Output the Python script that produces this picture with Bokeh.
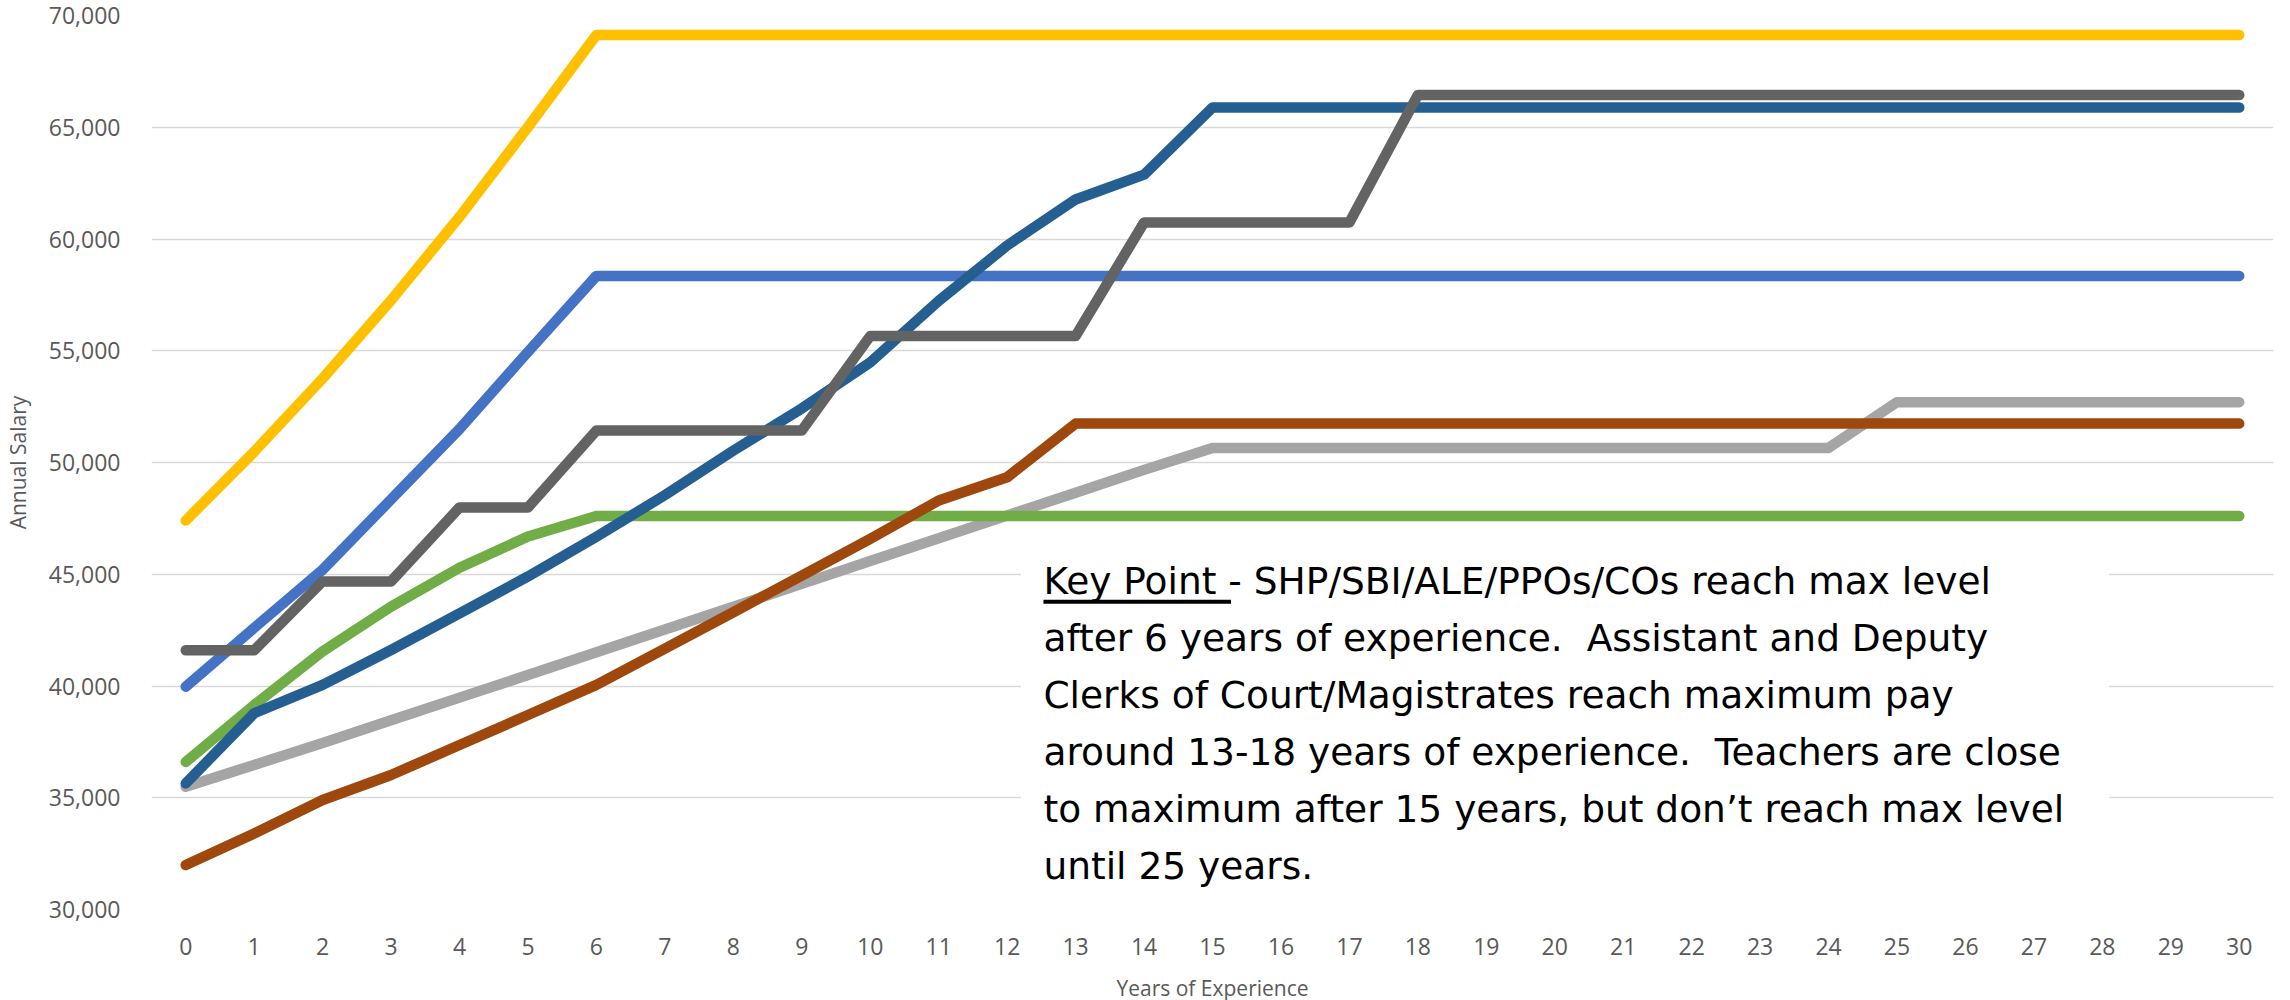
from bokeh.plotting import figure
from bokeh.models import Range1d, FixedTicker, NumeralTickFormatter, BoxAnnotation, Label, ColumnDataSource
from bokeh.embed import file_html
from bokeh.resources import INLINE

# ---------------- data ----------------
years = [0, 1, 2, 3, 4, 5, 6, 7, 8, 9, 10, 11, 12, 13, 14, 15,
         16, 17, 18, 19, 20, 21, 22, 23, 24, 25, 26, 27, 28, 29, 30]
y_ticks = [30000, 35000, 40000, 45000, 50000, 55000, 60000, 65000, 70000]
x_axis_title = "Years of Experience"
y_axis_title = "Annual Salary"

series_yellow = [47400, 50480, 53760, 57260, 60990, 65010, 69130, 69130, 69130, 69130, 69130,
                 69130, 69130, 69130, 69130, 69130, 69130, 69130, 69130, 69130, 69130,
                 69130, 69130, 69130, 69130, 69130, 69130, 69130, 69130, 69130, 69130]
series_blue = [39970, 42600, 45200, 48350, 51500, 54950, 58350, 58350, 58350, 58350, 58350,
               58350, 58350, 58350, 58350, 58350, 58350, 58350, 58350, 58350, 58350,
               58350, 58350, 58350, 58350, 58350, 58350, 58350, 58350, 58350, 58350]
series_dark_grey = [41600, 41600, 44680, 44680, 47990, 47990, 51430, 51430, 51430, 51430, 55660,
                    55660, 55660, 55660, 60740, 60740, 60740, 60740, 66440, 66440, 66440,
                    66440, 66440, 66440, 66440, 66440, 66440, 66440, 66440, 66440, 66440]
series_dark_blue = [35640, 38780, 40050, 41610, 43250, 44900, 46680, 48540, 50530, 52420, 54480,
                    57230, 59710, 61770, 62880, 65880, 65880, 65880, 65880, 65880, 65880,
                    65880, 65880, 65880, 65880, 65880, 65880, 65880, 65880, 65880, 65880]
series_green = [36600, 39150, 41550, 43550, 45290, 46690, 47610, 47610, 47610, 47610, 47610,
                47610, 47610, 47610, 47610, 47610, 47610, 47610, 47610, 47610, 47610,
                47610, 47610, 47610, 47610, 47610, 47610, 47610, 47610, 47610, 47610]
series_light_grey = [35490, 36470, 37450, 38470, 39480, 40490, 41510, 42530, 43550, 44570, 45590,
                     46610, 47630, 48650, 49670, 50650, 50650, 50650, 50650, 50650, 50650,
                     50650, 50650, 50650, 50650, 52700, 52700, 52700, 52700, 52700, 52700]
series_brown = [31990, 33400, 34900, 36020, 37360, 38700, 40050, 41670, 43300, 44940, 46580,
                48300, 49340, 51740, 51740, 51740, 51740, 51740, 51740, 51740, 51740,
                51740, 51740, 51740, 51740, 51740, 51740, 51740, 51740, 51740, 51740]

note_lines = [
    "Key Point - SHP/SBI/ALE/PPOs/COs reach max level",
    "after 6 years of experience.\u00a0 Assistant and Deputy",
    "Clerks of Court/Magistrates reach maximum pay",
    "around 13-18 years of experience.\u00a0 Teachers are close",
    "to maximum after 15 years, but don\u2019t reach max level",
    "until 25 years.",
]

# ---------------- figure ----------------
TICK_FONT = "Open Sans"
NOTE_FONT = "DejaVu Sans"
p = figure(frame_width=2122, frame_height=894,
           x_range=Range1d(-0.5, 30.5), y_range=Range1d(30000, 70000),
           output_backend="svg", toolbar_location=None,
           min_border_left=149, min_border_right=3, min_border_top=15, min_border_bottom=81)
p.outline_line_color = None
p.background_fill_color = "white"
p.border_fill_color = "white"

p.xgrid.grid_line_color = None
p.ygrid.grid_line_color = "#D9D9D9"
p.ygrid.grid_line_width = 1.5
p.ygrid.ticker = FixedTicker(ticks=y_ticks)

p.xaxis.ticker = FixedTicker(ticks=years)
p.yaxis.ticker = FixedTicker(ticks=y_ticks)
p.yaxis.formatter = NumeralTickFormatter(format="0,0")

for ax in (p.xaxis[0], p.yaxis[0]):
    ax.axis_line_color = None
    ax.major_tick_line_color = None
    ax.minor_tick_line_color = None
    ax.major_tick_out = 0
    ax.major_tick_in = 0
    ax.major_label_text_font = TICK_FONT
    ax.major_label_text_font_size = "23px"
    ax.major_label_text_color = "#595959"
    ax.axis_label_text_font = TICK_FONT
    ax.axis_label_text_font_size = "21px"
    ax.axis_label_text_font_style = "normal"
    ax.axis_label_text_color = "#595959"

p.xaxis.axis_label = x_axis_title
p.yaxis.axis_label = y_axis_title
p.yaxis.major_label_standoff = 31
p.yaxis.axis_label_standoff = 14
p.xaxis.major_label_standoff = 28
p.xaxis.axis_label_standoff = 16

src = ColumnDataSource(dict(year=years, yellow=series_yellow, blue=series_blue,
                            dgrey=series_dark_grey, dblue=series_dark_blue,
                            green=series_green, lgrey=series_light_grey, brown=series_brown))

LW = 10.5
for col, color in [("lgrey", "#A5A5A5"), ("green", "#70AD47"), ("yellow", "#FFC000"),
                   ("blue", "#4472C4"), ("brown", "#9E480E"), ("dblue", "#255E91"),
                   ("dgrey", "#636363")]:
    p.line("year", col, source=src, line_color=color, line_width=LW,
           line_cap="round", line_join="round")

# ---------------- text box ----------------
box = BoxAnnotation(left=12.2, right=28.1, bottom=29000, top=47300,
                    fill_color="white", fill_alpha=1.0, line_color=None)
p.add_layout(box)

NOTE_X = 12.53
first_baseline = 44680
line_step = 2550
for i, t in enumerate(note_lines):
    p.add_layout(Label(x=NOTE_X, y=first_baseline - i * line_step, text=t,
                       text_font=NOTE_FONT, text_font_size="37.5px", text_color="black",
                       text_baseline="alphabetic", text_align="left"))

underline = BoxAnnotation(left=NOTE_X, right=15.27, bottom=43680, top=43860,
                          fill_color="black", fill_alpha=1.0, line_color=None)
p.add_layout(underline)

open("out.html", "w").write(file_html(p, INLINE))
